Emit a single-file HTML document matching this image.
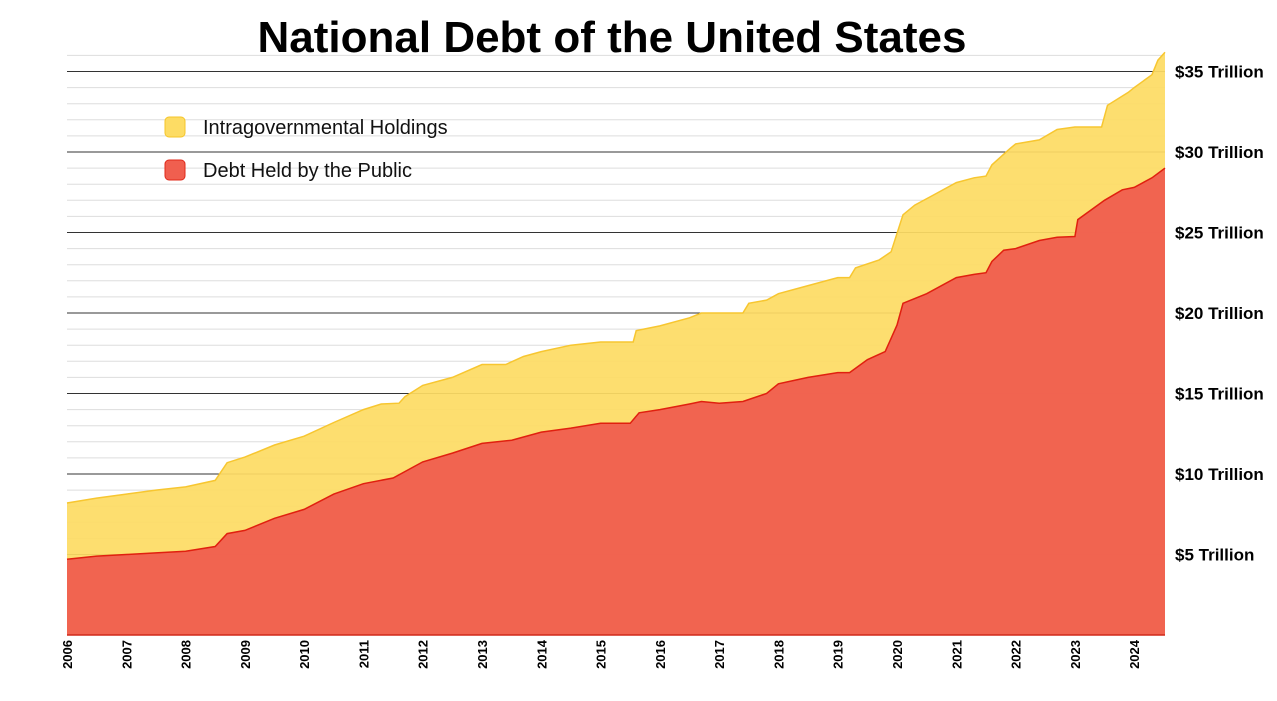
<!DOCTYPE html>
<html><head><meta charset="utf-8"><style>
html,body{margin:0;padding:0;background:#fff;}
svg{display:block;font-family:"Liberation Sans",Arial,sans-serif;}
</style></head><body>
<svg id="chart" width="1277" height="701" viewBox="0 0 1277 701" xmlns="http://www.w3.org/2000/svg">
<text x="612" y="52" text-anchor="middle" font-size="44" font-weight="bold" fill="#000">National Debt of the United States</text>
<g id="grid"></g>
<g id="areas"></g>
<g id="yaxis"></g>
<g id="xaxis"></g>
<g>
  <g>
    <rect x="165" y="117" width="20" height="20" rx="4" fill="#fddc64" stroke="#f5c52a" stroke-width="1"/>
    <text x="203" y="134" font-size="20" fill="#111">Intragovernmental Holdings</text>
  </g>
  <g>
    <rect x="165" y="160" width="20" height="20" rx="4" fill="#f05f4f" stroke="#e0281a" stroke-width="1"/>
    <text x="203" y="177" font-size="20" fill="#111">Debt Held by the Public</text>
  </g>
</g>
</svg>
<script>
const totalYears = [2006.0,2006.5,2007.0,2007.5,2008.0,2008.5,2008.7,2009.0,2009.5,2010.0,2010.5,2011.0,2011.3,2011.6,2011.7,2012.0,2012.5,2013.0,2013.4,2013.7,2014.0,2014.5,2015.0,2015.55,2015.6,2016.0,2016.5,2016.7,2017.0,2017.4,2017.5,2017.8,2018.0,2018.5,2019.0,2019.2,2019.3,2019.7,2019.9,2020.1,2020.3,2020.6,2021.0,2021.3,2021.5,2021.6,2021.9,2022.0,2022.4,2022.7,2023.0,2023.45,2023.55,2023.9,2024.0,2024.3,2024.4,2024.52];
const totalDebt = [8.2,8.5,8.75,9.0,9.2,9.6,10.7,11.05,11.8,12.35,13.2,14.0,14.35,14.4,14.8,15.5,16.0,16.8,16.8,17.3,17.6,18.0,18.2,18.2,18.9,19.2,19.7,20.0,20.0,20.0,20.6,20.8,21.2,21.7,22.2,22.2,22.8,23.3,23.8,26.1,26.7,27.3,28.1,28.4,28.5,29.2,30.2,30.5,30.75,31.4,31.55,31.55,32.9,33.7,34.0,34.8,35.7,36.2];
const publicYears = [2006.0,2006.5,2007.0,2007.5,2008.0,2008.5,2008.7,2009.0,2009.5,2010.0,2010.5,2011.0,2011.5,2012.0,2012.5,2013.0,2013.5,2014.0,2014.5,2015.0,2015.5,2015.65,2016.0,2016.5,2016.7,2017.0,2017.4,2017.8,2018.0,2018.5,2019.0,2019.2,2019.5,2019.8,2020.0,2020.1,2020.5,2021.0,2021.3,2021.5,2021.6,2021.8,2022.0,2022.4,2022.7,2023.0,2023.05,2023.5,2023.8,2024.0,2024.3,2024.52];
const publicDebt = [4.7,4.9,5.0,5.1,5.2,5.5,6.3,6.5,7.25,7.8,8.75,9.4,9.75,10.75,11.3,11.9,12.1,12.6,12.85,13.15,13.15,13.8,14.0,14.35,14.5,14.4,14.5,15.0,15.6,16.0,16.3,16.3,17.1,17.6,19.25,20.6,21.2,22.2,22.4,22.5,23.2,23.9,24.0,24.5,24.7,24.75,25.8,27.0,27.65,27.8,28.4,29.0];
const yTickValues = [5,10,15,20,25,30,35];
const yTickLabels = ["$5 Trillion","$10 Trillion","$15 Trillion","$20 Trillion","$25 Trillion","$30 Trillion","$35 Trillion"];
const xTickYears = [2006,2007,2008,2009,2010,2011,2012,2013,2014,2015,2016,2017,2018,2019,2020,2021,2022,2023,2024];

const NS = "http://www.w3.org/2000/svg";
const X0 = 67, X1 = 1165, YR0 = 2006, YR1 = 2024.52;
const Y0 = 635, PXT = 16.1;
const xs = yr => X0 + (yr - YR0) / (YR1 - YR0) * (X1 - X0);
const ys = v => Y0 - v * PXT;
function mk(tag, attrs, parent){const e=document.createElementNS(NS,tag);for(const k in attrs)e.setAttribute(k,attrs[k]);parent.appendChild(e);return e;}

const grid = document.getElementById('grid');
for (let v = 1; v <= 36; v++) {
  const major = v % 5 === 0;
  const l = mk('line', {x1:X0, x2:X1, y1:ys(v), y2:ys(v), stroke: major ? '#333' : '#ddd', 'stroke-width': major ? 1 : 1}, grid);
  
  
}

const areas = document.getElementById('areas');
function areaPath(years, vals){
  let d = `M${xs(years[0])},${Y0}`;
  years.forEach((y,i)=>{ d += ` L${xs(y).toFixed(1)},${ys(vals[i]).toFixed(1)}`; });
  d += ` L${xs(years[years.length-1])},${Y0} Z`;
  return d;
}
function linePath(years, vals){
  return years.map((y,i)=>(i?'L':'M')+xs(y).toFixed(1)+','+ys(vals[i]).toFixed(1)).join(' ');
}
const ya = mk('path', {d: areaPath(totalYears,totalDebt), fill:'#fddc64', 'fill-opacity':0.93}, areas);


const yl = mk('path', {d: linePath(totalYears,totalDebt), fill:'none', stroke:'#f7c630', 'stroke-width':1.5}, areas);


const ra = mk('path', {d: areaPath(publicYears,publicDebt), fill:'#f05f4f', 'fill-opacity':0.96}, areas);


const rl = mk('path', {d: linePath(publicYears,publicDebt), fill:'none', stroke:'#e0200f', 'stroke-width':1.5}, areas);


const base = mk('line', {x1:X0, x2:X1, y1:Y0, y2:Y0, stroke:'#d02a1a', 'stroke-width':1.5}, areas);



const yaxis = document.getElementById('yaxis');
yTickValues.forEach((v,i)=>{
  const t = mk('text', {x:1175, y:ys(v)+6, 'font-size':17, 'font-weight':'bold', fill:'#000'}, yaxis);
  t.textContent = yTickLabels[i];
  
  
});

const xaxis = document.getElementById('xaxis');
xTickYears.forEach(yr=>{
  const x = xs(yr);
  const t = mk('text', {x:0, y:0, 'font-size':13, 'font-weight':'bold', fill:'#000', 'text-anchor':'end', transform:`translate(${x+5},640) rotate(-90)`}, xaxis);
  t.textContent = String(yr);
  
  
});
</script>
</body></html>
